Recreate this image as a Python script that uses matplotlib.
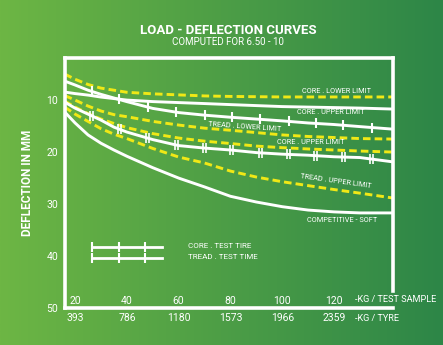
import matplotlib
matplotlib.use("Agg")
import matplotlib.pyplot as plt
import numpy as np
from matplotlib.colors import LinearSegmentedColormap

plt.rcParams['font.family'] = ['Roboto', 'DejaVu Sans']

# load per test sample (kg) and readings of deflection (mm)
load = [16, 20, 25, 30, 35, 40, 50, 60, 70, 80, 90, 100, 110, 120, 130, 143]
core_lower = [5.0, 6.0, 7.0, 7.7, 8.1, 8.5, 8.8, 9.0, 9.2, 9.3, 9.35, 9.4, 9.4, 9.4, 9.4, 9.4]
core_test = [6.35, 7.1, 8.1, 8.9, 9.6, 10.3, 11.6, 12.4, 12.9, 13.3, 13.65, 14.0, 14.4, 14.7, 15.1, 15.6]
core_upper = [8.46, 8.75, 9.04, 9.42, 9.71, 10.0, 10.29, 10.48, 10.67, 10.87, 11.06, 11.25, 11.35, 11.44, 11.54, 11.73]
tread_lower = [9.13, 10.0, 11.15, 12.1, 12.8, 13.2, 14.1, 14.8, 15.4, 15.8, 16.25, 16.7, 17.0, 17.2, 17.4, 17.5]
core_upper2 = [10.2, 11.35, 12.6, 13.65, 14.5, 15.3, 16.45, 17.3, 17.9, 18.35, 18.85, 19.15, 19.4, 19.6, 19.8, 20.0]
tread_test = [10.4, 11.55, 12.7, 13.85, 15.2, 16.15, 17.6, 18.75, 19.23, 19.6, 20.1, 20.4, 20.6, 20.9, 21.05, 21.9]
tread_upper = [11.35, 12.7, 14.1, 15.5, 16.55, 17.4, 19.3, 20.95, 22.1, 23.65, 24.8, 25.7, 26.45, 27.2, 27.9, 28.85]
competitive = [12.3, 14.4, 16.7, 18.3, 19.6, 20.8, 23.0, 25.0, 26.7, 28.5, 29.6, 30.5, 31.15, 31.5, 31.7, 31.7]

test_points = [26.5, 37, 48, 59, 70, 80.5, 91.5, 102.5, 113, 123.5, 134.5]

sample_ticks = [20, 40, 60, 80, 100, 120]
tyre_ticks = ['393', '786', '1180', '1573', '1966', '2359']
y_ticks = [10, 20, 30, 40, 50]

WHITE = 'white'
YELLOW = '#f0e816'

fig = plt.figure(figsize=(4.43, 3.45), dpi=100)

# background gradient
bg = fig.add_axes([0, 0, 1, 1])
cmap = LinearSegmentedColormap.from_list('g', ['#6db644', '#2d8648'])
bg.imshow(np.linspace(0, 1, 256).reshape(1, -1), aspect='auto', cmap=cmap,
          extent=[0, 1, 0, 1])
bg.axis('off')

fig.text(0.515, 0.912, 'LOAD - DEFLECTION CURVES', color=WHITE, fontsize=9.5,
         fontweight='bold', ha='center', va='center')
fig.text(0.515, 0.877, 'COMPUTED FOR 6.50 - 10', color=WHITE, fontsize=7,
         ha='center', va='center')

ax = fig.add_axes([0.1467, 0.107, 0.7405, 0.725])
ax.patch.set_alpha(0)
ax.set_xlim(16.1, 142.8)
ax.set_ylim(50, 1.9)

for s in ['left', 'top', 'bottom', 'right']:
    ax.spines[s].set_color(WHITE)
    ax.spines[s].set_linewidth(2.6)
ax.spines['right'].set_bounds(1.9, 46.7)
ax.set_xticks([])
ax.set_yticks(y_ticks)
ax.set_yticklabels([str(v) for v in y_ticks], color=WHITE, fontsize=7.5)
ax.tick_params(axis='y', length=0, pad=5)
ax.set_ylabel('DEFLECTION IN MM', color=WHITE, fontsize=8.5, fontweight='bold')
ax.yaxis.set_label_coords(-0.095, 0.5)

dash = (0, (2.6, 1.4))
lw = 2.1
ax.plot(load, core_lower, color=YELLOW, lw=lw, ls=dash)
ax.plot(load, core_upper, color=WHITE, lw=lw)
ax.plot(load, core_test, color=WHITE, lw=lw)
ax.plot(load, tread_lower, color=YELLOW, lw=lw, ls=dash)
ax.plot(load, core_upper2, color=YELLOW, lw=lw, ls=dash)
ax.plot(load, tread_test, color=WHITE, lw=lw)
ax.plot(load, tread_upper, color=YELLOW, lw=lw, ls=dash)
ax.plot(load, competitive, color=WHITE, lw=lw)

# test points: single ticks on core, double ticks on tread
ty = np.interp(test_points, load, core_test)
ax.plot(test_points, ty, ls='none', marker='|', ms=7, mew=1.5, color=WHITE)
ty2 = np.interp(test_points, load, tread_test)
tp = np.array(test_points)
ax.plot(tp - 0.6, ty2, ls='none', marker='|', ms=7, mew=1.2, color=WHITE)
ax.plot(tp + 0.6, ty2, ls='none', marker='|', ms=7, mew=1.2, color=WHITE)

lab = dict(color=WHITE, fontsize=5.3, ha='center', va='center')
ax.text(120.8, 8.3, 'CORE . LOWER LIMIT', **lab)
ax.text(118.8, 12.4, 'CORE . UPPER LIMIT', **lab)
ax.text(85.6, 15.1, 'TREAD . LOWER LIMIT', rotation=-4, **lab)
ax.text(111.1, 18.2, 'CORE . UPPER LIMIT', **lab)
ax.text(120.8, 25.7, 'TREAD . UPPER LIMIT', rotation=-8, **lab)
ax.text(123.1, 33.1, 'COMPETITIVE - SOFT', **lab)

# legend
leg_x = [26.6, 53.6]
leg_ticks = [26.6, 37.0, 47.0]
for yy, name in [(38.3, 'CORE . TEST TIRE'), (40.4, 'TREAD . TEST TIME')]:
    ax.plot(leg_x, [yy, yy], color=WHITE, lw=2)
    ax.plot(leg_ticks, [yy] * 3, ls='none', marker='|', ms=7, mew=1.5, color=WHITE)
    ax.text(63.6, yy - 0.3, name, color=WHITE, fontsize=5.8, ha='left', va='center')

# x labels inside and below the frame
for v, t in zip(sample_ticks, tyre_ticks):
    ax.text(v, 48.6, str(v), color=WHITE, fontsize=7.5, ha='center', va='center')
    ax.text(v, 52.0, t, color=WHITE, fontsize=7.5, ha='center', va='center',
            clip_on=False)
ax.text(128.3, 48.4, '-KG / TEST SAMPLE', color=WHITE, fontsize=6.6,
        ha='left', va='center', clip_on=False)
ax.text(128.3, 52.0, '-KG / TYRE', color=WHITE, fontsize=6.6,
        ha='left', va='center', clip_on=False)

fig.savefig('out.png', dpi=100)
